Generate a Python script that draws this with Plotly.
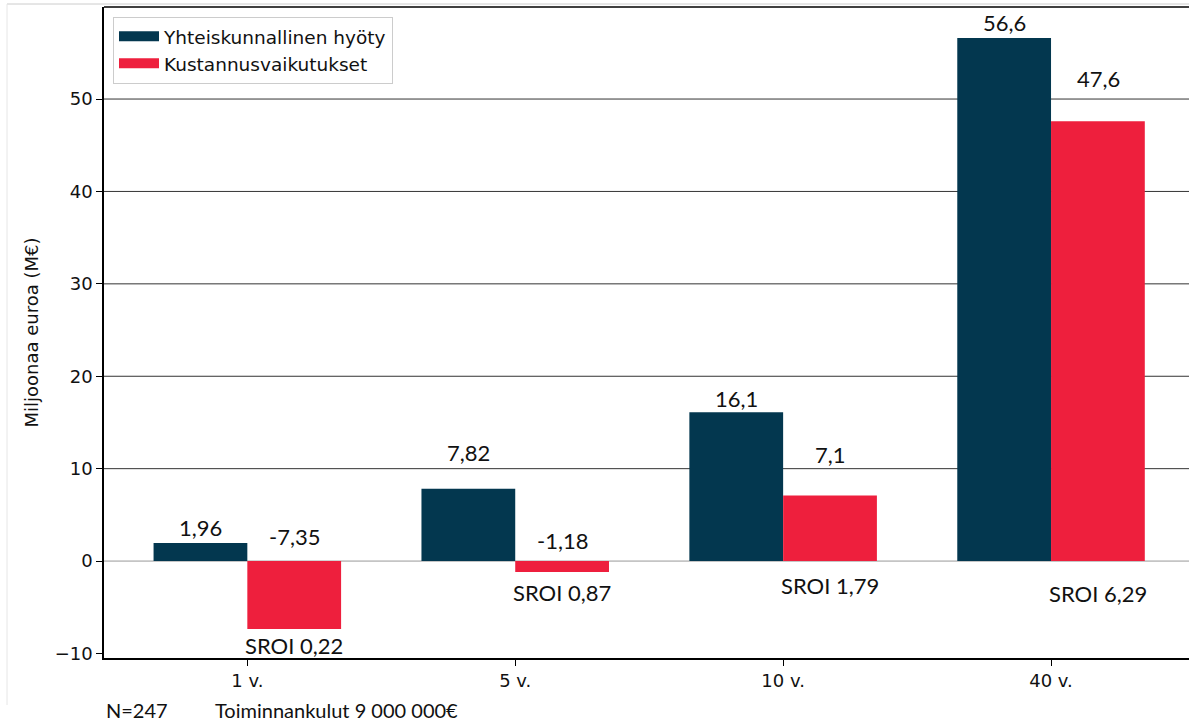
import plotly.graph_objects as go

# ---- data ----
categories = ["1 v.", "5 v.", "10 v.", "40 v."]
hyoty = [1.96, 7.82, 16.1, 56.6]            # Yhteiskunnallinen hyöty
kustannus = [-7.35, -1.18, 7.1, 47.6]       # Kustannusvaikutukset
sroi = [0.22, 0.87, 1.79, 6.29]
series_names = ["Yhteiskunnallinen hyöty", "Kustannusvaikutukset"]
y_ticks = [-10, 0, 10, 20, 30, 40, 50]
footer_n = "N=247"
footer_cost = "Toiminnankulut 9 000 000€"

# ---- label placement (layout, not data) ----
hyoty_label_y = [3.68, 11.7, 17.6, 58.3]
kust_label_y = [2.7, 2.2, 11.5, 52.2]
sroi_label_y = [-9.1, -3.35, -2.6, -3.5]

BLUE = "#03374f"
RED = "#ee1f3d"
TICK_FONT = dict(family="DejaVu Sans", size=18, color="#111111")
LABEL_FONT = dict(family="Lato", size=22, color="#111111")
FOOT_FONT = dict(family="Lato", size=20, color="#111111")


def fi(v):
    return f"{v}".replace(".", ",")


fig = go.Figure()
fig.add_trace(go.Bar(x=categories, y=hyoty, name=series_names[0],
                     marker=dict(color=BLUE, line=dict(width=0)),
                     showlegend=False))
fig.add_trace(go.Bar(x=categories, y=kustannus, name=series_names[1],
                     marker=dict(color=RED, line=dict(width=0)),
                     showlegend=False))
# legend entries (wide patches like the reference)
for nm, col in zip(series_names, [BLUE, RED]):
    fig.add_trace(go.Scatter(x=[None], y=[None], mode="lines", name=nm,
                             line=dict(color=col, width=13)))

ann = []
for i, c in enumerate(categories):
    ann.append(dict(x=c, y=hyoty_label_y[i], text=fi(hyoty[i]), xshift=-47,
                    showarrow=False, font=LABEL_FONT, xref="x", yref="y"))
    ann.append(dict(x=c, y=kust_label_y[i], text=fi(kustannus[i]), xshift=47,
                    showarrow=False, font=LABEL_FONT, xref="x", yref="y"))
    ann.append(dict(x=c, y=sroi_label_y[i], text="SROI " + fi(sroi[i]), xshift=47,
                    showarrow=False, font=LABEL_FONT, xref="x", yref="y"))

ann.append(dict(x=-0.0664, y=0.5, xref="paper", yref="paper", text="Miljoonaa euroa (M€)",
                textangle=-90, xanchor="center", yanchor="middle", showarrow=False,
                font=TICK_FONT))
ann.append(dict(x=0.0, y=-0.08, xref="paper", yref="paper", text=footer_n,
                xanchor="left", yanchor="middle", showarrow=False, font=FOOT_FONT))
ann.append(dict(x=0.1005, y=-0.08, xref="paper", yref="paper", text=footer_cost,
                xanchor="left", yanchor="middle", showarrow=False, font=FOOT_FONT))

shapes = []
for g in [10, 20, 30, 40, 50]:
    shapes.append(dict(type="line", xref="paper", yref="y", x0=0, x1=1, y0=g, y1=g,
                       line=dict(color="#333333", width=1), layer="below"))
shapes.append(dict(type="line", xref="paper", yref="y", x0=0, x1=1, y0=0, y1=0,
                   line=dict(color="#999999", width=1), layer="below"))
# top spine
shapes.append(dict(type="line", xref="paper", yref="paper", x0=0, x1=1, y0=1, y1=1,
                   line=dict(color="#000000", width=1.5)))
# faint outer frame of the original image
shapes.append(dict(type="line", xref="paper", yref="paper", x0=-0.0894, x1=1.0, y0=1.0046, y1=1.0046,
                   line=dict(color="#cccccc", width=1)))
shapes.append(dict(type="line", xref="paper", yref="paper", x0=-0.0894, x1=-0.0894, y0=1.0046, y1=-0.0722,
                   line=dict(color="#e6e6e6", width=1)))

fig.update_layout(
    width=1189, height=725,
    margin=dict(l=104, r=0, t=7, b=67),
    paper_bgcolor="white", plot_bgcolor="white",
    barmode="group", bargap=0.3, bargroupgap=0,
    annotations=ann, shapes=shapes,
    legend=dict(x=0.0083, y=0.985, xanchor="left", yanchor="top",
                bgcolor="white", bordercolor="#cccccc", borderwidth=1,
                font=dict(family="DejaVu Sans", size=18.5, color="#111111"),
                itemwidth=40, tracegroupgap=4),
    xaxis=dict(range=[-0.535, 3.515], showgrid=False, zeroline=False,
               showline=True, linecolor="black", linewidth=1.5,
               ticks="outside", ticklen=6, tickcolor="black", tickwidth=1,
               tickfont=TICK_FONT),
    yaxis=dict(range=[-10.49, 59.96], tickvals=y_ticks, showgrid=False, zeroline=False,
               showline=True, linecolor="black", linewidth=1.5,
               ticks="outside", ticklen=6, tickcolor="black", tickwidth=1,
               tickfont=TICK_FONT),
)

fig.write_html("out.html", config={"displayModeBar": False},
               post_script="document.body.style.margin='0';document.body.style.overflow='hidden';")
